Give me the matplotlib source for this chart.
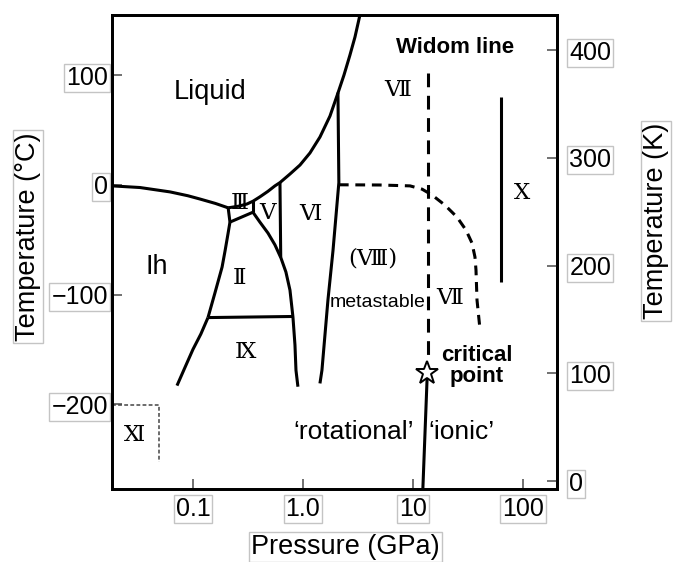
import matplotlib
matplotlib.use('Agg')
import matplotlib.pyplot as plt
from matplotlib.ticker import NullLocator

plt.rcParams['font.family'] = ['Liberation Sans', 'DejaVu Sans']

# Phase boundaries of water ice, pressure in GPa, temperature in degC
ih_melt_p = [0.0184, 0.033, 0.062, 0.09, 0.116, 0.16, 0.209]
ih_melt_t = [-1, -2.5, -6.5, -10, -13, -17, -21]

melt_p = [0.209, 0.26, 0.31, 0.351, 0.406, 0.48, 0.556, 0.618, 0.762, 0.94,
          1.158, 1.427, 1.76, 2.08, 2.36, 2.67, 2.97, 3.3]
melt_t = [-21, -19.5, -17.5, -15, -11, -6, -1, 2, 9.8, 18, 29, 43.5, 62.6,
          83.6, 100, 118, 134.6, 155]

ih_iii_p = [0.209, 0.217]
ih_iii_t = [-21, -34]
iii_ii_p = [0.217, 0.351]
iii_ii_t = [-34, -25]
iii_v_p = [0.351, 0.351]
iii_v_t = [-25, -15]

ii_v_p = [0.351, 0.406, 0.481, 0.556, 0.631, 0.70, 0.762, 0.811, 0.846, 0.864, 0.90]
ii_v_t = [-25, -34, -44, -54.7, -66.7, -79.5, -96, -120.5, -146, -169, -184]

v_vi_p = [0.618, 0.628]
v_vi_t = [2, -66]

ih_ii_p = [0.217, 0.208, 0.196, 0.184, 0.158, 0.137]
ih_ii_t = [-34, -45, -60, -75, -99, -121]

ih_ix_p = [0.137, 0.118, 0.1, 0.085, 0.0716]
ih_ix_t = [-121, -136, -150, -166, -183]

ii_ix_p = [0.137, 0.811]
ii_ix_t = [-121, -120]

vi_vii_p = [2.08, 2.12, 1.875, 1.687, 1.488, 1.427]
vi_vii_t = [84, 2, -60, -105, -169, -181]

vii_viii_p = [2.12, 5.0, 9.4, 12.1, 14.9, 19.5, 25.1, 30.3, 34.4, 36.6, 37.4, 38.2, 40.6]
vii_viii_t = [0, -0.2, -1, -4, -9.3, -18.5, -29.4, -41.2, -53.1, -65.8, -77.7, -105, -131]

widom_p = [13.8, 13.8]
widom_t = [102, -162]

ionic_p = [13.5, 12.3]
ionic_t = [-171.5, -277]

x_p = [63, 63]
x_t = [80, -89]

xi_p = [0.0184, 0.049, 0.049]
xi_t = [-201, -201, -253]

crit_p = 13.5
crit_t = -171.5

# axis ticks
p_ticks = [0.1, 1.0, 10, 100]
p_labels = ['0.1', '1.0', '10', '100']
c_ticks = [-200, -100, 0, 100]
c_labels = ['\u2212200', '\u2212100', '0', '100']
k_ticks = [0, 100, 200, 300, 400]
k_labels = ['0', '100', '200', '300', '400']

# region labels: (text, pressure, temperature)
roman = [('\u2162', 0.267, -16.6), ('\u2164', 0.481, -25.7), ('\u2165', 1.158, -26.7),
         ('\u2161', 0.267, -85), ('\u2168', 0.297, -152), ('\u216A', 0.0297, -228),
         ('\u2166', 7.31, 86), ('\u2169', 97.7, -7.5), ('(\u2167)', 4.33, -66.8),
         ('\u2166', 21.7, -103)]

fig = plt.figure(figsize=(6.73, 5.62), dpi=100)
ax = fig.add_axes([0.1664, 0.1299, 0.6612, 0.8434])
ax.set_xscale('log')
ax.set_xlim(0.01837, 203.7)
ax.set_ylim(-277.2, 154.7)

lw = 2.2
solid = [(ih_melt_p, ih_melt_t), (melt_p, melt_t), (ih_iii_p, ih_iii_t),
         (iii_ii_p, iii_ii_t), (iii_v_p, iii_v_t), (ii_v_p, ii_v_t),
         (v_vi_p, v_vi_t), (ih_ii_p, ih_ii_t), (ih_ix_p, ih_ix_t),
         (ii_ix_p, ii_ix_t), (vi_vii_p, vi_vii_t), (ionic_p, ionic_t), (x_p, x_t)]
for p, t in solid:
    ax.plot(p, t, color='black', lw=lw, solid_capstyle='butt', solid_joinstyle='round')

ax.plot(vii_viii_p, vii_viii_t, color='black', lw=lw, dashes=(3.2, 2.2))
ax.plot(widom_p, widom_t, color='black', lw=lw, dashes=(4.5, 2.8))
ax.plot(xi_p, xi_t, color='#444444', lw=1.1, dashes=(2.5, 1.5))
ax.plot(crit_p, crit_t, marker='*', ms=17, mfc='white', mec='black', mew=1.4,
        linestyle='none', zorder=5)

# region names
ax.text(0.143, 84.5, 'Liquid', fontsize=19.5, ha='center', va='center')
ax.text(0.047, -75, 'Ih', fontsize=19.5, ha='center', va='center')
for txt, p, t in roman:
    ax.text(p, t, txt, fontsize=16.5, ha='center', va='center',
            family=['DejaVu Serif', 'Noto Sans CJK JP'])
ax.text(4.8, -107, 'metastable', fontsize=14, ha='center', va='center')
ax.text(24.1, 125.5, 'Widom line', fontsize=16, fontweight='bold',
        ha='center', va='center')
ax.text(38.2, -165, 'critical\npoint', fontsize=16, fontweight='bold',
        ha='center', va='center', linespacing=1.0)
ax.text(2.91, -225, '\u2018rotational\u2019', fontsize=19, ha='center', va='center')
ax.text(27.3, -225, '\u2018ionic\u2019', fontsize=19, ha='center', va='center')

box = dict(facecolor='white', edgecolor='#c4c4c4', lw=1, pad=1.5)

ax.xaxis.set_minor_locator(NullLocator())
ax.set_xticks(p_ticks, labels=p_labels)
ax.set_yticks(c_ticks, labels=c_labels)
ax.tick_params(direction='in', length=7, width=1.2, color='0.35', labelsize=18)
ax.tick_params(axis='x', pad=6)
ax.tick_params(axis='y', pad=3)
for lab in ax.get_xticklabels() + ax.get_yticklabels():
    lab.set_bbox(box)

ax.set_xlabel('Pressure (GPa)', fontsize=19.5, va='center', bbox=box)
ax.xaxis.set_label_coords(0.524, -0.122)
ax.set_ylabel('Temperature (\u00b0C)', fontsize=19.5, va='center', bbox=box)
ax.yaxis.set_label_coords(-0.189, 0.532)

ax2 = ax.twinx()
ax2.set_ylim(-7.4, 432.5)
ax2.set_yticks(k_ticks, labels=k_labels)
ax2.tick_params(direction='in', length=7, width=1.2, color='0.35', labelsize=18, pad=9)
for lab in ax2.get_yticklabels():
    lab.set_bbox(box)
ax2.set_ylabel('Temperature (K)', fontsize=19.5, va='center', bbox=box)
ax2.yaxis.set_label_coords(1.2225, 0.565)

for a in (ax, ax2):
    for s in a.spines.values():
        s.set_linewidth(2)

fig.savefig('out.png', dpi=100)
